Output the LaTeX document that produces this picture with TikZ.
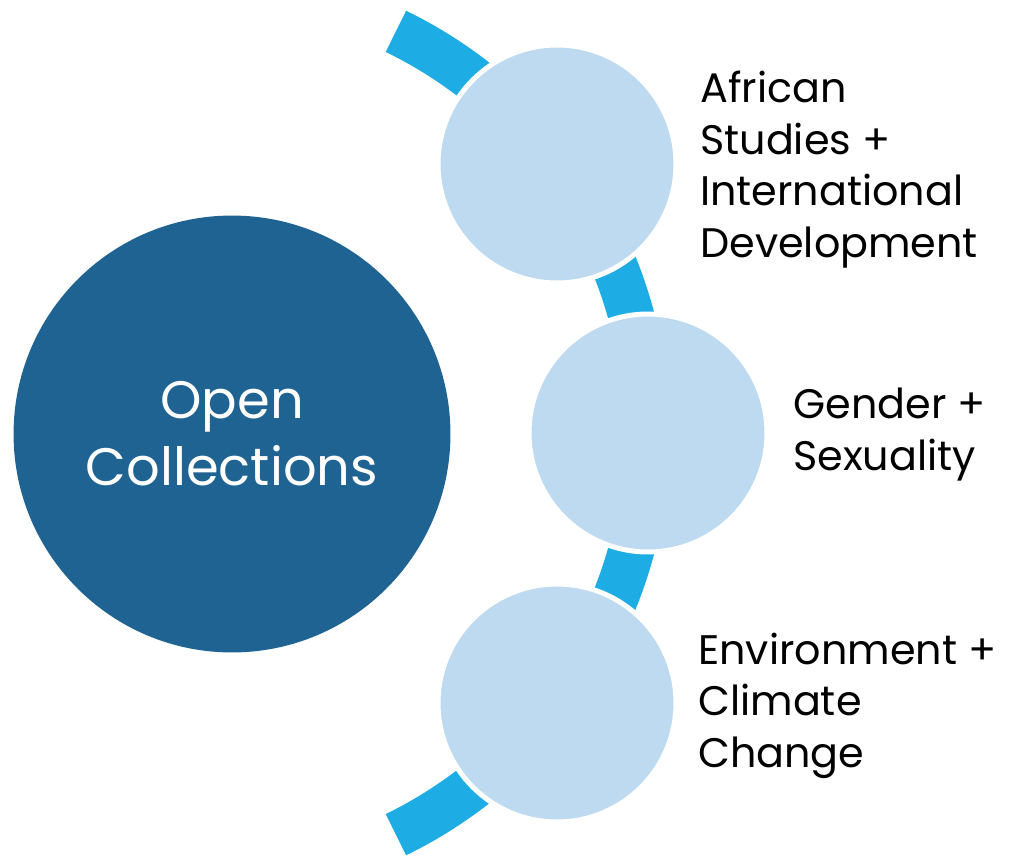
\documentclass[tikz,border=0pt]{standalone}
\usepackage{fontspec}
\setmainfont{Poppins}
\usepackage{xcolor}
\usepackage{tikz}
\usetikzlibrary{shapes,positioning}
\definecolor{hubblue}{HTML}{1F6392}
\definecolor{ringblue}{HTML}{1DACE3}
\definecolor{paleblue}{HTML}{BDDAF1}
\tikzset{bigball/.style={circle,fill=hubblue,minimum size=8.74cm,inner sep=0pt,text=white,align=center,font=\fontsize{30}{38}\selectfont},
  ball/.style={circle,fill=paleblue,draw=white,line width=0.1cm,minimum size=4.76cm,inner sep=0pt},
  lbl/.style={anchor=base west,align=left,inner sep=0pt,font=\fontsize{23.5}{29.3}\selectfont}}

\begin{document}
\begin{tikzpicture}[x=0.02cm,y=-0.02cm]
    \useasboundingbox (0,0) rectangle (1010,855);
    \coordinate (hub) at (200,433);

    \draw[ringblue,line width=0.92cm] ([shift={(64:8.94cm)}]hub) arc[start angle=64,end angle=-64,radius=8.94cm];

    \node[bigball] (open) at (232,434) {Open\\Collections};
    \node[ball] (afr) at (557,164) {};
    \node[ball] (gen) at (648,433) {};
    \node[ball] (env) at (557,703) {};

    % base anchor sits on the last line
    \node[lbl] (afrtxt) at (700,257) {African\\Studies +\\International\\Development};
    \node[lbl] (gentxt) at (793,470) {Gender +\\Sexuality};
    \node[lbl] (envtxt) at (698,767) {Environment +\\Climate\\Change};
\end{tikzpicture}
\end{document}
